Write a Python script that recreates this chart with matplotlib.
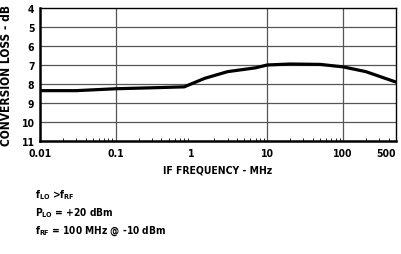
import matplotlib
matplotlib.use("Agg")
import matplotlib.pyplot as plt
from matplotlib.ticker import FixedLocator, NullFormatter, LogLocator

# curve
freq_mhz = [0.01, 0.03, 0.1, 0.3, 0.8, 1.5, 3, 7, 10, 20, 50, 100, 200, 500]
loss_db = [8.35, 8.35, 8.25, 8.2, 8.15, 7.7, 7.35, 7.15, 7.0, 6.95, 6.97, 7.1, 7.35, 7.9]

x_ticks = [0.01, 0.1, 1, 10, 100, 500]
x_ticklabels = ["0.01", "0.1", "1", "10", "100", "500"]
x_grid = [0.1, 10, 100]
y_ticks = [4, 5, 6, 7, 8, 9, 10, 11]

plt.rcParams['font.family'] = ['DejaVu Sans']
plt.rcParams['font.stretch'] = 'condensed'
fs = 7.5
txt = dict(fontsize=fs, fontweight='bold', fontstretch='condensed')

fig = plt.figure(figsize=(4.01, 2.55), dpi=100)
ax = fig.add_axes([0.0998, 0.443, 0.8877, 0.522])

ax.plot(freq_mhz, loss_db, color='black', lw=2.3, solid_capstyle='round')

ax.set_xscale('log')
ax.set_xlim(0.01, 500)
ax.set_ylim(11, 4)

ax.xaxis.set_major_locator(FixedLocator(x_ticks))
ax.set_xticklabels(x_ticklabels, **txt)
ax.get_xticklabels()[-1].set_ha('right')
ax.xaxis.set_minor_locator(LogLocator(base=10, subs=range(2, 10)))
ax.xaxis.set_minor_formatter(NullFormatter())
ax.set_yticks(y_ticks)
ax.set_yticklabels([str(v) for v in y_ticks], **txt)

ax.tick_params(axis='x', which='major', length=0, pad=5)
ax.tick_params(axis='x', which='minor', direction='in', length=2.5, width=0.6)
ax.tick_params(axis='y', length=0, pad=4)

for v in x_grid:
    ax.axvline(v, color='#555555', lw=0.9, zorder=0)
for v in y_ticks[1:-1]:
    ax.axhline(v, color='#555555', lw=0.9, zorder=0)

ax.spines['left'].set_linewidth(1.8)
ax.spines['bottom'].set_linewidth(1.8)
ax.spines['top'].set_linewidth(1.0)
ax.spines['right'].set_linewidth(1.0)

ax.set_xlabel("IF FREQUENCY - MHz", labelpad=5, **txt)
ax.set_ylabel("CONVERSION LOSS - dB", labelpad=6, fontsize=8.6,
              fontweight='bold', fontstretch='condensed')

notes = [r"f$_{\mathregular{LO}}$ >f$_{\mathregular{RF}}$",
         r"P$_{\mathregular{LO}}$ = +20 dBm",
         r"f$_{\mathregular{RF}}$ = 100 MHz @ -10 dBm"]
for i, t in enumerate(notes):
    fig.text(0.088, 0.235 - i * 0.071, t, fontsize=7.3, fontweight='bold',
             fontstretch='condensed', va='center')

fig.savefig("out.png", dpi=100)
